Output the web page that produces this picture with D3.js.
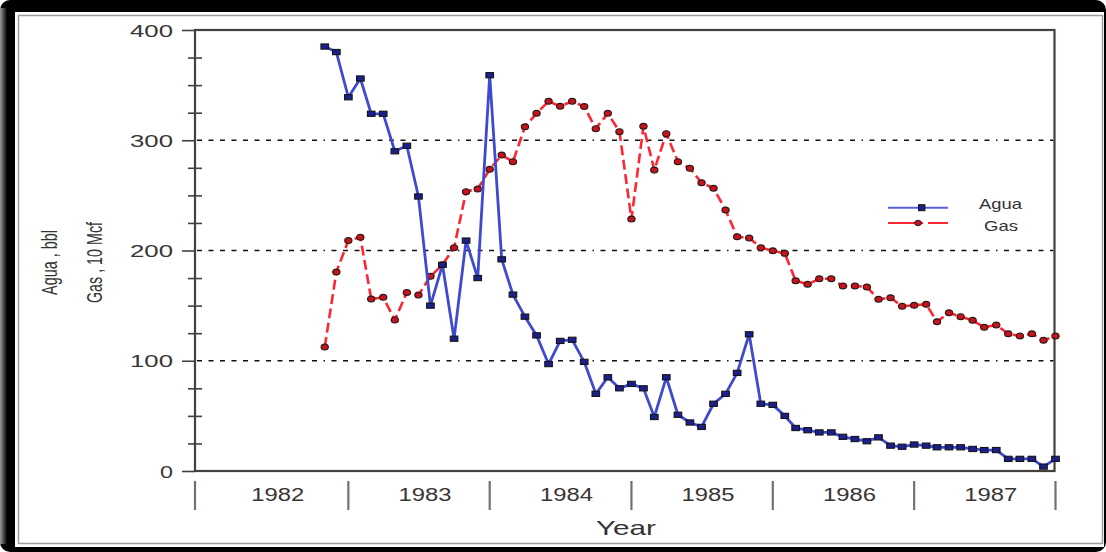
<!DOCTYPE html>
<html>
<head>
<meta charset="utf-8">
<script src="https://cdn.jsdelivr.net/npm/d3@7"></script>
<style>
  html, body { margin: 0; padding: 0; background: #fff; overflow: hidden; }
  svg { display: block; }
  text { font-family: "Liberation Sans", Arial, Helvetica, sans-serif; fill: #3a3434; }
</style>
</head>
<body>
<svg id="chart" width="1106" height="552"></svg>
<script>
// ---- data: monthly production, Nov 1982 – Jan 1988 ----
const yearLabels = ["1982", "1983", "1984", "1985", "1986", "1987"];
const axisStart = new Date(1981, 11, 1);
const firstMonth = new Date(1982, 10, 1);
const lastMonth = new Date(1988, 0, 1);

const agua = [
  385, 380, 339, 356, 324, 324, 290, 295, 249, 150,
  187, 120, 209, 175, 359, 192, 160, 140, 123, 97,
  118, 119, 99, 70, 85, 75, 79, 75, 49, 85,
  51, 44, 40, 61, 70, 89, 124, 61, 60, 50,
  39, 37, 35, 35, 31, 29, 27, 30.5, 23, 22,
  24, 23, 21.5, 21.5, 21.5, 20, 19, 19, 11, 11,
  11, 4, 11
];
const gas = [
  112.5, 180.5, 209, 212, 156, 157.5, 137, 162, 159.6, 176.6,
  187, 202.6, 253.4, 255.8, 273.6, 286.6, 280.6, 312.3, 324.4, 335.3,
  330.8, 335.3, 330.5, 310.5, 324.4, 307.8, 228.6, 312.6, 273, 306,
  280.6, 274.5, 261.5, 256.4, 236.7, 212.5, 211.3, 202.6, 199.8, 197.4,
  172.6, 169.3, 174.4, 174.4, 167.8, 167.8, 166.9, 155.7, 157.2, 149.4,
  150.3, 151.2, 135.4, 143.6, 140, 136.7, 130.3, 132.4, 124.5, 122.4,
  124.5, 118.5, 122.4
];
const yMajorTicks = [0, 100, 200, 300, 400];
const yMinorTicks = [25, 50, 75, 125, 150, 175, 225, 250, 275, 325, 350, 375];
const gridValues = [100, 200, 300];
const seriesNames = ["Agua", "Gas"];
const yLabelLines = ["Agua , bbl", "Gas , 10 Mcf"];
const xTitle = "Year";

// ---- layout ----
const W = 1106, H = 552;
const plot = { left: 195, right: 1054.5, top: 30, bottom: 471 };
const axisColor = "#463f3f";

const months = d3.timeMonth.range(firstMonth, d3.timeMonth.offset(lastMonth, 1));
const aguaData = months.map((d, i) => ({ date: d, value: agua[i] }));
const gasData = months.map((d, i) => ({ date: d, value: gas[i] }));

const x = d3.scaleTime().domain([axisStart, lastMonth]).range([plot.left, 1055.5]);
const y = d3.scaleLinear().domain([0, 400]).range([plot.bottom, plot.top]);

const svg = d3.select("#chart");

// outer frame
const defs = svg.append("defs");
const lg = defs.append("linearGradient").attr("id", "edge").attr("x1", 0).attr("x2", 1);
lg.append("stop").attr("offset", 0).attr("stop-color", "#9a9a9a");
lg.append("stop").attr("offset", 1).attr("stop-color", "#000");
svg.append("rect").attr("width", W).attr("height", H).attr("fill", "#fff");
svg.append("rect").attr("width", W).attr("height", H).attr("rx", 10).attr("fill", "#000");
svg.append("rect").attr("x", 0).attr("y", 8).attr("width", 7).attr("height", H - 16).attr("fill", "url(#edge)");
svg.append("rect").attr("x", 15).attr("y", 12).attr("width", 1089).attr("height", 535).attr("fill", "#fff");
svg.append("rect").attr("x", 18.5).attr("y", 15.5).attr("width", 1084).attr("height", 528)
  .attr("fill", "none").attr("stroke", "#a29c9c").attr("stroke-width", 1.5);

// dash-dot gridlines
const gridDash = d3.range(11).flatMap(() => [5, 6.5]).concat([1.5, 6.5]).join(",");
svg.append("g").selectAll("line").data(gridValues).join("line")
  .attr("x1", plot.left + 2).attr("x2", plot.right - 1)
  .attr("y1", d => y(d)).attr("y2", d => y(d))
  .attr("stroke", "#111").attr("stroke-width", 1.3)
  .attr("stroke-dasharray", gridDash);

// y axis: major ticks outward, minor ticks crossing
const yMajor = svg.append("g").attr("transform", `translate(${plot.left},0)`)
  .call(d3.axisLeft(y).tickValues(yMajorTicks).tickSize(13).tickFormat(d3.format("d")));
yMajor.select(".domain").remove();
yMajor.selectAll("line").attr("stroke", axisColor).attr("stroke-width", 1.6);
yMajor.selectAll("text")
  .attr("x", -22).attr("dy", null).attr("y", 6)
  .attr("font-size", 16.5)
  .attr("textLength", d => d === 0 ? 13 : 43)
  .attr("lengthAdjust", "spacingAndGlyphs")
  .style("fill", "#3a3434");

const yMinor = svg.append("g").attr("transform", `translate(${plot.left},0)`)
  .call(d3.axisLeft(y).tickValues(yMinorTicks).tickSize(7).tickFormat(""));
yMinor.select(".domain").remove();
yMinor.selectAll("line").attr("x1", 7).attr("x2", -7).attr("stroke", axisColor).attr("stroke-width", 1.6);

// plot frame
svg.append("rect")
  .attr("x", plot.left).attr("y", plot.top)
  .attr("width", plot.right - plot.left).attr("height", plot.bottom - plot.top)
  .attr("fill", "none").attr("stroke", axisColor).attr("stroke-width", 2.2);

// year separators and labels below the axis
const yearBounds = [axisStart].concat(d3.timeYear.range(new Date(1983, 0, 1), d3.timeYear.offset(lastMonth, 1)));
svg.append("g").selectAll("line").data(yearBounds).join("line")
  .attr("x1", d => x(d)).attr("x2", d => x(d))
  .attr("y1", 481).attr("y2", 510)
  .attr("stroke", "#776f6f").attr("stroke-width", 2.2);
svg.append("g").selectAll("text").data(yearLabels).join("text")
  .attr("x", (d, i) => (x(yearBounds[i]) + x(yearBounds[i + 1])) / 2 + 6)
  .attr("y", 500.5)
  .attr("text-anchor", "middle")
  .attr("font-size", 18.8)
  .attr("textLength", 53).attr("lengthAdjust", "spacingAndGlyphs")
  .text(d => d);

svg.append("text")
  .attr("x", 626).attr("y", 535)
  .attr("text-anchor", "middle").attr("font-size", 21)
  .attr("textLength", 60).attr("lengthAdjust", "spacingAndGlyphs")
  .style("fill", "#333")
  .text(xTitle);

// rotated y-axis titles
const yTitlePos = [{ x: 57, len: 65 }, { x: 101.5, len: 81 }];
svg.append("g").selectAll("text").data(yLabelLines).join("text")
  .attr("transform", (d, i) => `translate(${yTitlePos[i].x},262.5) scale(1.5,1) rotate(-90)`)
  .attr("text-anchor", "middle").attr("font-size", 14.5)
  .attr("textLength", (d, i) => yTitlePos[i].len).attr("lengthAdjust", "spacingAndGlyphs")
  .style("fill", "#333")
  .text(d => d);

// series styles
const aguaLine = "#3e4bcf", aguaMark = "#1c1f8c";
const gasLine = "#ff2634", gasMark = "#c9121c";

const line = d3.line().x(d => x(d.date)).y(d => y(d.value));

// Gas: dashed red line with round markers
svg.append("path").datum(gasData)
  .attr("d", line).attr("fill", "none")
  .attr("stroke", gasLine).attr("stroke-width", 2.6)
  .attr("stroke-dasharray", "10,4.5");
svg.append("g").selectAll("ellipse").data(gasData).join("ellipse")
  .attr("cx", d => x(d.date)).attr("cy", d => y(d.value))
  .attr("rx", 3.6).attr("ry", 2.9)
  .attr("fill", gasMark).attr("stroke", "#2a1a1a").attr("stroke-width", 1.2);

// Agua: solid blue line with square markers
svg.append("path").datum(aguaData)
  .attr("d", line).attr("fill", "none")
  .attr("stroke", aguaLine).attr("stroke-width", 2.8)
  .attr("stroke-linejoin", "round");
svg.append("g").selectAll("rect").data(aguaData).join("rect")
  .attr("x", d => x(d.date) - 3.8).attr("y", d => y(d.value) - 2.6)
  .attr("width", 7.6).attr("height", 5.2)
  .attr("fill", aguaMark).attr("stroke", "#141414").attr("stroke-width", 1.1);

// legend
const legend = svg.append("g");
const legY = [207.7, 223];
legend.append("line").attr("x1", 888).attr("x2", 948).attr("y1", legY[0]).attr("y2", legY[0])
  .attr("stroke", "#5562d8").attr("stroke-width", 2);
legend.append("rect").attr("x", 921.7 - 3.2).attr("y", legY[0] - 3).attr("width", 6.4).attr("height", 6)
  .attr("fill", aguaMark).attr("stroke", "#141414").attr("stroke-width", 1);
legend.append("line").attr("x1", 888).attr("x2", 948).attr("y1", legY[1]).attr("y2", legY[1])
  .attr("stroke", gasLine).attr("stroke-width", 2).attr("stroke-dasharray", "35,5,20");
legend.append("ellipse").attr("cx", 918).attr("cy", legY[1]).attr("rx", 3.4).attr("ry", 2.7)
  .attr("fill", gasMark).attr("stroke", "#2a1a1a").attr("stroke-width", 1);
const legText = [{ x: 1000.5, y: 209.3, len: 43 }, { x: 1001, y: 231, len: 34 }];
legend.selectAll("text").data(seriesNames).join("text")
  .attr("x", (d, i) => legText[i].x).attr("y", (d, i) => legText[i].y)
  .attr("text-anchor", "middle").attr("font-size", 15)
  .attr("textLength", (d, i) => legText[i].len).attr("lengthAdjust", "spacingAndGlyphs")
  .style("fill", "#333")
  .text(d => d);
</script>
</body>
</html>
